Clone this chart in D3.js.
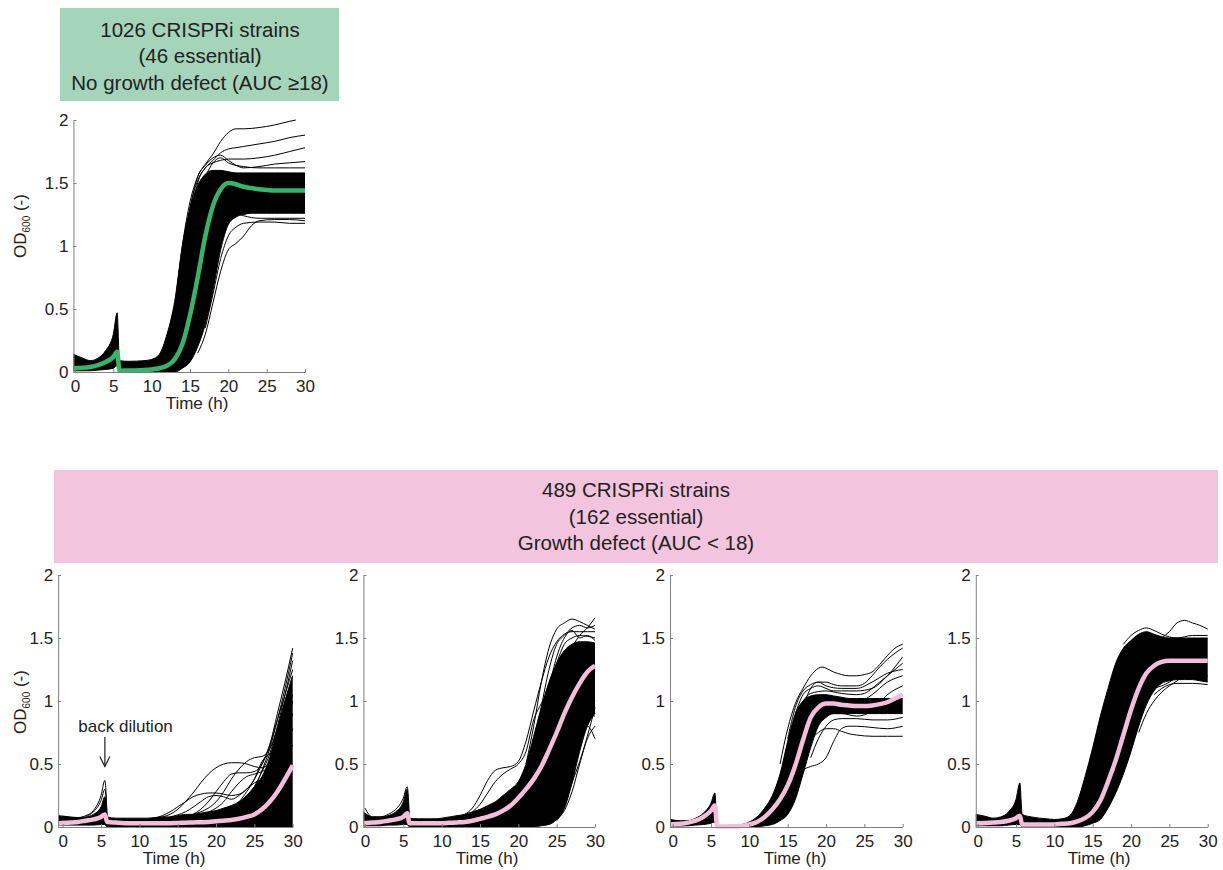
<!DOCTYPE html>
<meta charset="utf-8">
<style>body{margin:0;background:#fff}</style>
<svg width="1223" height="870"></svg>
<script src="https://d3js.org/d3.v7.min.js"></script>
<script>
// time grid (h), back dilution between 5.5 and 5.8
var T = [0,1,2,3,4,5,5.5,5.8,7,9,10,11,12,13,14,15,16,17,18,19,20,21,22,23,24,25,26,27,28,29,30];
var xTicks = [0,5,10,15,20,25,30];
var yTicks = [0,0.5,1,1.5,2];

// top panel: no growth defect
var p0Mean = [0.03,0.033,0.04,0.055,0.08,0.12,0.16, 0.01, 0.012,0.015,
  0.02,0.03,0.05,0.1,0.22,0.45,0.75,1.08,1.32,1.45,1.5,1.49,1.47,1.46,1.45,1.445,1.44,1.44,1.44,1.44,1.44];
var p0Hi = [0.14,0.11,0.09,0.11,0.17,0.3,0.47, 0.09, 0.085,0.09,
  0.1,0.14,0.3,0.56,1.0,1.3,1.48,1.57,1.6,1.6,1.59,1.58,1.58,1.58,1.58,1.58,1.58,1.58,1.58,1.58,1.58];
var p0Lo = [0.01,0.01,0.01,0.015,0.02,0.03,0.05, 0, 0,0,
  0,0,0,0,0.03,0.08,0.2,0.38,0.65,0.97,1.17,1.23,1.25,1.26,1.26,1.26,1.26,1.26,1.26,1.26,1.26];
var p0Extra = [
  [[13,0.5],[14,1.0],[15,1.35],[16,1.55],[17,1.65],[18,1.73],[19,1.83],[20,1.9],[21,1.93],[22,1.93],[24,1.94],[26,1.96],[28,1.99],[28.8,2.0]],
  [[14,0.9],[15,1.3],[16,1.52],[17,1.62],[18,1.68],[19,1.74],[20,1.77],[21,1.78],[22,1.79],[24,1.81],[26,1.83],[28,1.86],[30,1.88]],
  [[15,1.2],[16,1.5],[17,1.62],[18,1.66],[19,1.68],[20,1.69],[22,1.69],[24,1.7],[26,1.72],[28,1.75],[30,1.78]],
  [[15,1.3],[16,1.55],[17,1.64],[18,1.7],[19,1.72],[20,1.68],[21,1.64],[22,1.62],[24,1.63],[26,1.65],[28,1.66],[30,1.67]],
  [[16,0.15],[17,0.3],[18,0.55],[19,0.8],[20,0.97],[21,1.02],[22,1.08],[23,1.16],[24,1.2],[26,1.21],[28,1.21],[30,1.2]],
  [[17,0.35],[18,0.62],[19,0.9],[20,1.08],[21,1.15],[22,1.18],[24,1.19],[26,1.19],[28,1.18],[30,1.18]],
  [[18,0.85],[19,1.1],[20,1.22],[21,1.26],[22,1.24],[24,1.22],[26,1.22],[28,1.22],[30,1.22]],
  [[17,1.55],[18,1.66],[19,1.7],[20,1.66],[22,1.63],[24,1.62],[26,1.62],[28,1.62],[30,1.62]]
];

// bottom panels: growth defect
var p1Mean = [0.03,0.035,0.04,0.05,0.06,0.08,0.1, 0.04, 0.035,0.03,
  0.03,0.03,0.03,0.03,0.03,0.032,0.034,0.036,0.038,0.04,0.045,0.05,0.056,0.065,0.08,0.1,0.14,0.2,0.28,0.38,0.49];
var p1Hi = [0.09,0.08,0.075,0.08,0.1,0.16,0.24, 0.08, 0.07,0.07,
  0.07,0.07,0.075,0.08,0.08,0.09,0.1,0.1,0.11,0.12,0.13,0.15,0.17,0.2,0.25,0.32,0.4,0.55,0.78,1.0,1.2];
var p1Lo = [0.015,0.015,0.015,0.015,0.015,0.02,0.02, 0, 0,0,
  0,0,0,0,0,0,0,0,0,0,0,0,0,0,0,0,0,0,0,0,0];
var p1Extra = [
  [[0,0.085],[1,0.075],[2,0.075],[3,0.09],[4,0.13],[5,0.25],[5.5,0.37],[5.8,0.07]],
  [[3,0.085],[4,0.12],[5,0.21],[5.5,0.3],[5.8,0.07]],
  [[12,0.07],[13,0.08],[14,0.1],[15,0.14],[16,0.2],[17,0.27],[18,0.35],[19,0.42],[20,0.47],[21,0.5],[22,0.51],[23,0.51],[24,0.5],[25,0.48],[26,0.47],[27,0.52],[28,0.65],[29,0.85],[30,1.05]],
  [[12,0.07],[13,0.09],[14,0.12],[15,0.16],[16,0.2],[17,0.24],[18,0.26],[19,0.27],[20,0.27],[21,0.26],[22,0.25],[23,0.26],[24,0.3],[25,0.38],[26,0.5],[27,0.65],[28,0.85],[29,1.05],[30,1.25]],
  [[16,0.08],[17,0.1],[18,0.12],[19,0.15],[20,0.2],[21,0.28],[22,0.38],[23,0.46],[24,0.52],[25,0.55],[26,0.56],[27,0.62],[28,0.78],[29,1.0],[30,1.2]],
  [[16,0.08],[17,0.1],[18,0.14],[19,0.2],[20,0.28],[21,0.36],[22,0.42],[23,0.43],[24,0.43],[25,0.44],[26,0.5],[27,0.65],[28,0.9],[29,1.15],[30,1.42]],
  [[14,0.08],[16,0.12],[18,0.2],[19,0.24],[20,0.25],[21,0.24],[22,0.22],[23,0.25],[24,0.3],[25,0.35],[26,0.38],[27,0.42],[28,0.5],[29,0.62],[30,0.78]],
  [[18,0.1],[20,0.15],[21,0.2],[22,0.28],[23,0.35],[24,0.4],[25,0.42],[26,0.44],[27,0.48],[28,0.55],[29,0.7],[30,0.9]],
  [[20,0.1],[22,0.15],[23,0.2],[24,0.28],[25,0.38],[26,0.52],[27,0.58],[28,0.6],[29,0.75],[30,1.0]],
  [[22,0.12],[24,0.22],[25,0.3],[26,0.36],[27,0.4],[28,0.45],[29,0.55],[30,0.65]],
  [[24,0.2],[25,0.3],[26,0.45],[27,0.62],[28,0.85],[29,1.1],[30,1.38]],
  [[23,0.15],[24,0.22],[25,0.32],[26,0.44],[27,0.58],[28,0.8],[29,1.05],[30,1.32]]
];

var p2Mean = [0.03,0.035,0.04,0.05,0.06,0.08,0.11, 0.03, 0.03,0.03,
  0.03,0.033,0.036,0.04,0.05,0.065,0.08,0.1,0.13,0.17,0.23,0.3,0.38,0.48,0.61,0.75,0.9,1.03,1.14,1.23,1.28];
var p2Hi = [0.12,0.08,0.08,0.09,0.12,0.2,0.3, 0.07, 0.065,0.065,
  0.07,0.08,0.09,0.1,0.12,0.14,0.17,0.2,0.25,0.3,0.36,0.5,0.72,0.95,1.15,1.3,1.4,1.45,1.47,1.47,1.46];
var p2Lo = [0.01,0.01,0.01,0.015,0.015,0.02,0.02, 0, 0,0,
  0,0,0,0,0,0,0,0,0,0,0,0,0,0.01,0.02,0.06,0.15,0.35,0.6,0.8,0.9];
var p2Extra = [
  [[0,0.15],[0.5,0.1],[1,0.08],[2,0.08],[3,0.1],[4,0.14],[5,0.23],[5.5,0.32],[5.8,0.07]],
  [[12,0.08],[13,0.1],[14,0.15],[15,0.25],[16,0.37],[17,0.45],[18,0.47],[19,0.48],[20,0.52],[21,0.68],[22,0.92],[23,1.15],[24,1.35],[25,1.47],[26,1.53],[27,1.55],[28,1.55],[29,1.55],[30,1.55]],
  [[13,0.08],[14,0.12],[15,0.18],[16,0.27],[17,0.36],[18,0.42],[19,0.46],[20,0.5],[21,0.6],[22,0.85],[23,0.98],[24,1.1],[25,1.3],[26,1.45],[27,1.5],[28,1.52],[30,1.5]],
  [[21,0.5],[22,0.8],[23,1.15],[24,1.42],[25,1.57],[26,1.62],[27,1.65],[28,1.63],[29,1.6],[30,1.57]],
  [[24,0.6],[25,0.95],[26,1.25],[27,1.42],[28,1.52],[29,1.58],[30,1.66]],
  [[23,0.03],[24,0.06],[25,0.14],[26,0.32],[27,0.55],[28,0.76],[29,0.8],[30,0.7]],
  [[24,0.03],[25,0.06],[26,0.13],[27,0.28],[28,0.5],[29,0.7],[30,0.8]],
  [[25,0.05],[26,0.15],[27,0.35],[28,0.52],[29,0.72],[30,0.95]],
  [[20,0.1],[21,0.2],[22,0.4],[23,0.7],[24,1.0],[25,1.2],[26,1.3],[27,1.35],[28,1.38],[29,1.4],[30,1.42]],
  [[22,0.1],[23,0.2],[24,0.4],[25,0.7],[26,0.95],[27,1.1],[28,1.2],[29,1.1],[30,1.0]],
  [[23,0.1],[24,0.25],[25,0.5],[26,0.8],[27,1.05],[28,1.0],[29,0.9],[30,0.88]],
  [[21,0.3],[22,0.6],[23,0.95],[24,1.25],[25,1.45],[26,1.52],[27,1.58],[28,1.6],[29,1.58],[30,1.6]],
  [[22,0.45],[23,0.8],[24,1.1],[25,1.35],[26,1.5],[27,1.56],[28,1.5],[29,1.52],[30,1.48]]
];

var p3Mean = [0.02,0.025,0.035,0.05,0.08,0.13,0.17, 0.004, 0.004,0.008,
  0.02,0.04,0.08,0.14,0.22,0.33,0.49,0.69,0.87,0.95,0.98,0.98,0.97,0.965,0.96,0.96,0.965,0.975,0.99,1.02,1.05];
var p3Hi = [0.06,0.05,0.05,0.07,0.11,0.19,0.27, 0.012, 0.012,0.02,
  0.04,0.08,0.15,0.25,0.42,0.68,0.9,1.0,1.04,1.05,1.05,1.04,1.03,1.02,1.02,1.02,1.02,1.02,1.02,1.02,1.02];
var p3Lo = [0.005,0.008,0.01,0.015,0.02,0.03,0.04, 0, 0,0,
  0,0,0.01,0.02,0.05,0.1,0.22,0.42,0.63,0.8,0.87,0.9,0.9,0.9,0.9,0.9,0.9,0.9,0.9,0.9,0.9];
var p3Extra = [
  [[14,0.5],[15,0.78],[16,0.98],[17,1.1],[18,1.2],[19,1.26],[19.5,1.27],[20,1.26],[21,1.23],[22,1.21],[23,1.2],[24,1.2],[25,1.21],[26,1.23],[27,1.29],[28,1.36],[29,1.42],[30,1.45]],
  [[15,0.7],[16,0.95],[17,1.08],[18,1.13],[19,1.15],[20,1.15],[21,1.13],[22,1.12],[24,1.12],[25,1.14],[26,1.2],[27,1.27],[28,1.33],[29,1.38],[30,1.42]],
  [[16,0.9],[17,1.05],[18,1.1],[19,1.12],[20,1.1],[21,1.08],[22,1.08],[24,1.08],[26,1.1],[28,1.2],[30,1.35]],
  [[17,1.0],[18,1.06],[20,1.08],[22,1.06],[24,1.05],[25,1.06],[26,1.1],[27,1.15],[28,1.2],[29,1.25],[30,1.3]],
  [[14,0.1],[15,0.2],[16,0.35],[17,0.45],[18,0.48],[19,0.5],[20,0.55],[21,0.68],[22,0.78],[23,0.8],[24,0.8],[26,0.79],[28,0.78],[30,0.8]],
  [[16,0.3],[17,0.5],[18,0.68],[19,0.75],[20,0.78],[21,0.78],[22,0.76],[23,0.74],[24,0.73],[26,0.72],[28,0.72],[30,0.72]],
  [[18,0.55],[19,0.7],[20,0.8],[21,0.85],[22,0.86],[24,0.86],[26,0.85],[28,0.85],[30,0.87]],
  [[20,0.9],[22,0.9],[24,0.88],[26,0.92],[28,1.05],[30,1.12]],
  [[20,0.95],[22,0.96],[24,0.98],[26,1.05],[28,1.15],[30,1.2]],
  [[17,0.95],[18,1.1],[19,1.15],[20,1.12],[22,1.1],[24,1.1],[26,1.15],[28,1.22],[30,1.25]]
];

var p4Mean = [0.03,0.032,0.035,0.04,0.05,0.07,0.09, 0.02, 0.02,0.02,
  0.02,0.025,0.03,0.045,0.07,0.12,0.21,0.36,0.53,0.73,0.93,1.1,1.22,1.28,1.31,1.32,1.32,1.32,1.32,1.32,1.32];
var p4Hi = [0.1,0.085,0.07,0.08,0.12,0.22,0.35, 0.1, 0.08,0.065,
  0.06,0.065,0.09,0.2,0.4,0.63,0.88,1.1,1.3,1.42,1.48,1.53,1.55,1.53,1.51,1.5,1.5,1.5,1.5,1.5,1.5];
var p4Lo = [0.01,0.01,0.01,0.01,0.015,0.02,0.02, 0, 0,0,
  0,0,0,0,0.01,0.03,0.06,0.15,0.27,0.42,0.6,0.8,0.97,1.08,1.14,1.16,1.17,1.17,1.17,1.16,1.15];
var p4Extra = [
  [[20,1.0],[21,1.2],[22,1.35],[23,1.45],[24,1.5],[25,1.55],[26,1.62],[27,1.64],[28,1.62],[29,1.6],[30,1.57]],
  [[20,0.7],[21,0.92],[22,1.06],[23,1.1],[24,1.12],[25,1.15],[26,1.19],[27,1.22],[28,1.22],[30,1.2]],
  [[19,1.45],[20,1.52],[21,1.56],[22,1.58],[23,1.56],[24,1.53],[26,1.5],[28,1.52],[30,1.52]],
  [[23,1.05],[24,1.1],[25,1.13],[26,1.14],[28,1.14],[30,1.13]],
  [[21,0.75],[22,0.9],[23,1.0],[24,1.07],[25,1.12],[26,1.16],[27,1.2],[28,1.21],[30,1.2]]
];

var topLines = ["1026 CRISPRi strains", "(46 essential)", "No growth defect (AUC \u226518)"];
var bottomLines = ["489 CRISPRi strains", "(162 essential)", "Growth defect (AUC < 18)"];

var green = "#35b46c", pink = "#f4bdd9";
var font = "'Liberation Sans', Arial, sans-serif";
var ink = "#222";
var svg = d3.select("svg");

function header(x, y, w, h, fill, lines, cx, base) {
  svg.append("rect").attr("x", x).attr("y", y).attr("width", w).attr("height", h).attr("fill", fill);
  svg.selectAll(null).data(lines).enter().append("text")
    .attr("x", cx).attr("y", function(d, i) { return base + i * 26.5; })
    .attr("text-anchor", "middle").attr("font-family", font).attr("font-size", "20.5px")
    .attr("fill", ink).text(function(d) { return d; });
}
header(60, 8, 279, 93, "#a4d4b9", topLines, 200, 36.5);
header(54, 470, 1164, 93, "#f2c4de", bottomLines, 636, 497);

var panels = [
  {mean: p0Mean, hi: p0Hi, lo: p0Lo, extra: p0Extra, color: green, x0: 75, y0: 372, xMin: -0.2, labY: 226, timeX: 197},
  {mean: p1Mean, hi: p1Hi, lo: p1Lo, extra: p1Extra, color: pink, x0: 62.7, y0: 827, xMin: -0.6, labY: 702, timeX: 174},
  {mean: p2Mean, hi: p2Hi, lo: p2Lo, extra: p2Extra, color: pink, x0: 365, y0: 827, xMin: -0.2, timeX: 487},
  {mean: p3Mean, hi: p3Hi, lo: p3Lo, extra: p3Extra, color: pink, x0: 672.7, y0: 827, xMin: -0.35, timeX: 795},
  {mean: p4Mean, hi: p4Hi, lo: p4Lo, extra: p4Extra, color: pink, x0: 977.7, y0: 827, xMin: -0.25, timeX: 1099}
];

panels.forEach(function(p, k) {
  var x = d3.scaleLinear().domain([p.xMin, 30]).range([p.x0 + p.xMin * 230 / 30, p.x0 + 230]);
  var y = d3.scaleLinear().domain([0, 2]).range([p.y0, p.y0 - 252]);
  var g = svg.append("g");
  var tx = function(i) { return i === 0 ? x(p.xMin) : x(T[i]); };

  // dense bundle of strain curves
  var area = d3.area()
    .x(function(d, i) { return tx(i); })
    .y0(function(d, i) { return y(p.lo[i]); })
    .y1(function(d) { return y(d); })
    .curve(d3.curveMonotoneX);
  g.append("path").datum(p.hi).attr("d", area).attr("fill", "#000");

  var line = d3.line().x(function(d, i) { return tx(i); }).y(function(d) { return y(d); }).curve(d3.curveMonotoneX);
  [p.hi, p.lo].forEach(function(s) {
    g.append("path").datum(s).attr("d", line).attr("fill", "none").attr("stroke", "#000").attr("stroke-width", 1);
  });

  // individual outlying strains
  var pl = d3.line().x(function(d) { return x(Math.max(d[0], p.xMin)); }).y(function(d) { return y(d[1]); }).curve(d3.curveMonotoneX);
  g.selectAll(".ex").data(p.extra).enter().append("path")
    .attr("d", pl).attr("fill", "none").attr("stroke", "#000").attr("stroke-width", 1);

  // mean curve
  g.append("path").datum(p.mean).attr("d", line).attr("fill", "none")
    .attr("stroke", p.color).attr("stroke-width", 4.5).attr("stroke-linejoin", "round");

  var ax = g.append("g").attr("transform", "translate(0," + p.y0 + ")")
    .call(d3.axisBottom(x).tickValues(xTicks).tickSizeInner(-3).tickSizeOuter(0).tickPadding(8));
  var ay = g.append("g").attr("transform", "translate(" + x(p.xMin) + ",0)")
    .call(d3.axisLeft(y).tickValues(yTicks).tickSizeInner(-3).tickSizeOuter(0).tickPadding(5).tickFormat(d3.format("~g")));
  [ax, ay].forEach(function(a) {
    a.select(".domain").attr("stroke", "#808080");
    a.selectAll(".tick line").attr("stroke", "#808080");
    a.selectAll("text").attr("font-family", font).attr("font-size", "17px").attr("fill", ink);
  });

  g.append("text").attr("x", p.timeX).attr("y", p.y0 + 37)
    .attr("text-anchor", "middle").attr("font-family", font).attr("font-size", "17px").attr("fill", ink)
    .text("Time (h)");

  if (p.labY) {
    var lab = g.append("text").attr("transform", "translate(26," + p.labY + ") rotate(-90)")
      .attr("text-anchor", "middle").attr("font-family", font).attr("font-size", "17px").attr("fill", ink);
    lab.append("tspan").text("OD");
    lab.append("tspan").attr("font-size", "10px").attr("dy", 4).text("600");
    lab.append("tspan").attr("dy", -4).text(" (-)");
  }

  if (k === 1) {
    // back dilution annotation
    var ta = 5.5;
    g.append("text").attr("x", x(8.2)).attr("y", y(0.8)).attr("dy", "0.35em")
      .attr("text-anchor", "middle").attr("font-family", font).attr("font-size", "17px").attr("fill", ink)
      .text("back dilution");
    g.append("line").attr("x1", x(ta)).attr("x2", x(ta)).attr("y1", y(0.715)).attr("y2", y(0.48))
      .attr("stroke", ink).attr("stroke-width", 1.2);
    g.append("path")
      .attr("d", "M" + (x(ta) - 5) + "," + (y(0.48) - 10) + "L" + x(ta) + "," + y(0.48) + "L" + (x(ta) + 5) + "," + (y(0.48) - 10))
      .attr("fill", "none").attr("stroke", ink).attr("stroke-width", 1.2);
  }
});
</script>
